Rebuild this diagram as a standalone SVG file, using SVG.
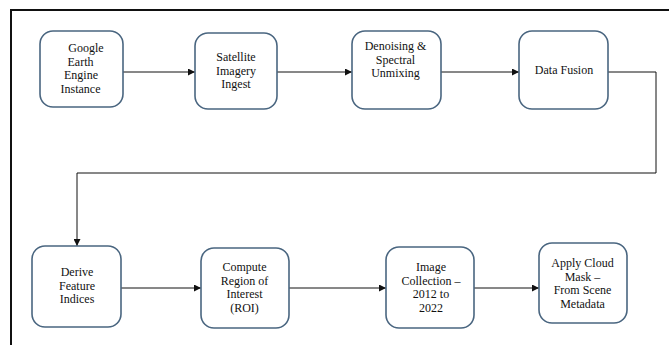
<svg xmlns="http://www.w3.org/2000/svg" width="669" height="345" viewBox="0 0 669 345">
<style>
.node rect{fill:#fff;stroke:#4a6680;stroke-width:1.6}
text{font-family:'Liberation Serif','DejaVu Serif',serif;font-size:12px;fill:#111;text-anchor:middle}
.conn path{fill:none;stroke:#111;stroke-width:1}
</style>
<defs>
<marker id="ah" viewBox="0 0 10 10" refX="10" refY="5" markerWidth="8" markerHeight="7" markerUnits="userSpaceOnUse" orient="auto">
<path d="M0,0 L10,5 L0,10 Z" fill="#111"/>
</marker>
</defs>
<rect width="669" height="345" fill="#fff"/>
<path d="M11,345 V10 H669" fill="none" stroke="#111" stroke-width="2"/>
<g class="conn">
<path d="M123,72 H195" marker-end="url(#ah)"/>
<path d="M277,72 H352" marker-end="url(#ah)"/>
<path d="M441,72 H519" marker-end="url(#ah)"/>
<path d="M608,72 H656 V173 H77 V246" marker-end="url(#ah)"/>
<path d="M121,288 H201" marker-end="url(#ah)"/>
<path d="M289,288 H386" marker-end="url(#ah)"/>
<path d="M474,288 H539" marker-end="url(#ah)"/>
</g>
<g id="n1" class="node"><rect x="40" y="31" width="83" height="76" rx="13"/>
<text x="86" y="52">Google</text><text x="80.5" y="65.5">Earth</text><text x="81" y="79">Engine</text><text x="80.5" y="93">Instance</text></g>
<g id="n2" class="node"><rect x="195" y="33" width="82" height="76" rx="13"/>
<text x="236" y="61">Satellite</text><text x="236" y="74.5">Imagery</text><text x="236" y="88">Ingest</text></g>
<g id="n3" class="node"><rect x="352" y="31" width="89" height="78" rx="13"/>
<text x="395.5" y="50">Denoising &amp;</text><text x="395.5" y="63.5">Spectral</text><text x="395.5" y="77">Unmixing</text></g>
<g id="n4" class="node"><rect x="519" y="31" width="89" height="78" rx="13"/>
<text x="564" y="73.5">Data Fusion</text></g>
<g id="n5" class="node"><rect x="32" y="246" width="89" height="81" rx="13"/>
<text x="77" y="276">Derive</text><text x="77" y="289.5">Feature</text><text x="77" y="303">Indices</text></g>
<g id="n6" class="node"><rect x="201" y="248" width="88" height="80" rx="13"/>
<text x="244.5" y="271">Compute</text><text x="244.5" y="284.5">Region of</text><text x="244.5" y="298">Interest</text><text x="244.5" y="312">(ROI)</text></g>
<g id="n7" class="node"><rect x="386" y="247" width="88" height="81" rx="13"/>
<text x="431" y="271">Image</text><text x="431" y="284.5">Collection –</text><text x="431" y="298">2012 to</text><text x="431" y="312">2022</text></g>
<g id="n8" class="node"><rect x="539" y="243" width="88" height="80" rx="13"/>
<text x="582.5" y="267">Apply Cloud</text><text x="582.5" y="280.5">Mask –</text><text x="582.5" y="294">From Scene</text><text x="582.5" y="307.5">Metadata</text></g>
</svg>
